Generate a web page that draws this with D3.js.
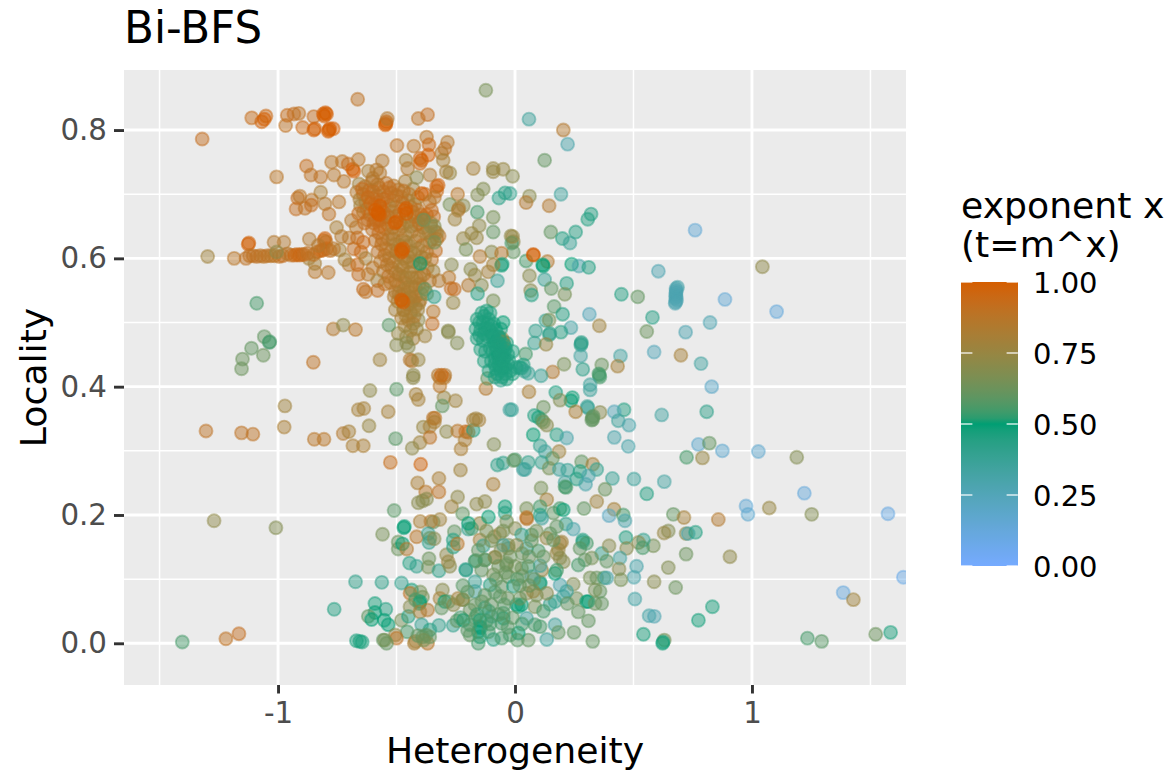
<!DOCTYPE html>
<html><head><meta charset="utf-8">
<script src="https://cdn.jsdelivr.net/npm/d3@7/dist/d3.min.js"></script>
<style>html,body{margin:0;padding:0;background:#fff}svg{display:block}text{font-family:"DejaVu Sans",sans-serif}</style>
</head><body><svg id="c" width="1173" height="772"></svg>
<script>
const xTicks=[-1,0,1], xMinor=[-1.5,-0.5,0.5,1.5];
const yTicks=[0,0.2,0.4,0.6,0.8], yMinor=[0.1,0.3,0.5,0.7];
const legendTicks=[0,0.25,0.5,0.75,1];
const chartTitle="Bi-BFS", xTitle="Heterogeneity", yTitle="Locality", legendTitle=["exponent x","(t=m^x)"];
// each point: [heterogeneity, locality, exponent]
const bottomCluster=[
[.11,.242,.65],[.134,.224,.8],[.345,.221,.78],[.291,.21,.6],[.418,.209,.8],[.397,.199,.22],[.457,.2,.55],[.464,.191,.3],
[-.162,.217,.72],[-.127,.221,.72],[-.148,.187,.75],[-.112,.197,.5],[-.042,.213,.5],[-.042,.203,.45],[.049,.21,.65],[.049,.196,.9],[.05,.194,.88],[.106,.213,.55],[.106,.2,.45],[.162,.203,.6],[.19,.21,.55],[.204,.208,.5],[.113,.195,.35],[.215,.186,.42],[.246,.178,.3],[-.183,.179,.55],[-.197,.187,.5],[-.148,.161,.8],[-.134,.152,.4],[-.087,.166,.72],[-.063,.171,.75],[0,.179,.7],[-.035,.19,.65],[.07,.169,.55],[.028,.169,.4],[.148,.171,.6],[.134,.164,.75],[.176,.182,.6],[.19,.156,.8],[.197,.158,.78],[.183,.146,.75],[.176,.14,.75],[.19,.133,.7],[.204,.127,.7],[.162,.161,.6],[.286,.161,.45],[.286,.158,.45],[.274,.148,.6],[.302,.156,.55],[.366,.14,.4],[.324,.133,.65],[.295,.13,.6],[.267,.122,.55],[.387,.128,.6],[.317,.102,.65],[.345,.102,.62],[.376,.102,.55],[.387,.102,.3],[.246,.092,.68],[.26,.07,.65],[.302,.065,.5],[.309,.065,.5],[.359,.081,.6],[.338,.083,.65],[.366,.062,.6],[.338,.062,.62],[.267,.049,.6],[.31,.035,.6],[.249,.017,.6],[.328,.003,.6],
[.106,.095,.45],[.106,.093,.47],[.19,.091,.3],[.218,.081,.35],[.204,.073,.35],[.169,.065,.4],[.148,.061,.4],[.221,.062,.6],[.169,.109,.5],[.176,.114,.55],[.113,.114,.75],[.106,.121,.35],[.07,.104,.3],[.056,.12,.55],[.028,.117,.6],[-.035,.125,.65],[-.028,.148,.7],[-.028,.153,.65],[-.049,.153,.35],[.049,.148,.4],[.099,.144,.55],[.007,.153,.72],[-.084,.134,.72],[-.127,.13,.6],[-.169,.128,.55],[-.208,.115,.42],[-.141,.114,.6],[-.091,.107,.65],[-.169,.096,.38],[-.169,.081,.35],[-.105,.091,.45],[-.056,.088,.6],[-.028,.104,.6],[-.007,.089,.45],[.007,.06,.48],[.014,.057,.48],[.028,.06,.5],[.091,.075,.65],[.049,.078,.7],[.077,.081,.75],[.134,.078,.7],[-.063,.073,.6],[-.127,.075,.6],[-.169,.06,.6],[-.221,.068,.75],[-.19,.052,.62],[-.127,.055,.45],[-.098,.042,.38],[-.049,.039,.5],[.049,.039,.35],[.084,.057,.65],[.169,.029,.35],[.183,.017,.6],[.134,.006,.35],[.056,.005,.6],[.084,.029,.55],[.106,.026,.55],[-.148,.026,.48],[-.145,.024,.48],[-.155,.018,.48],[-.148,.01,.5],[-.19,.013,.6],[-.155,0,.55],[-.091,.006,.45],[-.056,.008,.55],[-.021,.013,.55],[.014,.016,.5],[-.218,.036,.5],[-.169,.039,.6],[-.112,.018,.55],[-.056,.031,.55],[-.049,.047,.55],[-.148,.036,.5],[-.19,.029,.55],
[-.1,.06,.6],[-.085,.08,.58],[-.03,.07,.62],[.02,.09,.6],[0,.12,.65],[.03,.14,.62],[-.06,.145,.68],[-.1,.16,.65],[.06,.135,.62],[.08,.1,.6],[-.08,.1,.6],[-.045,.06,.58],[-.01,.04,.6],[-.11,.05,.55],[-.07,.045,.58],[-.03,.025,.58],[.03,.03,.55],[.02,.07,.62],[.06,.09,.62],[-.14,.065,.6],[-.12,.035,.55],[-.16,.045,.55],[-.04,.11,.62],[.03,.105,.62],[.12,.135,.62],[.07,.16,.62],[-.12,.175,.65],[-.05,.175,.65],[.09,.175,.65],[-.07,.12,.62],[-.02,.135,.62],[.01,.1,.58],[-.23,.04,.55],[-.2,.02,.58],[-.105,.03,.55],[.01,.005,.58],[-.2,.08,.6],[-.22,.09,.58],[-.155,.145,.6],[.12,.05,.55]
];
const bottomLeft=[
[-.445,.125,.45],[-.415,.12,.4],[-.363,.132,.62],[-.366,.119,.65],[-.321,.113,.42],[-.282,.127,.78],[-.275,.12,.7],[-.207,.114,.42],[-.289,.138,.72],[-.165,.129,.55],[-.127,.13,.55],[-.085,.134,.7],[-.036,.122,.6],
[-.673,.096,.42],[-.562,.095,.42],[-.479,.094,.4],[-.763,.053,.45],[-.436,.083,.47],[-.443,.078,.9],[-.4,.08,.65],[-.39,.072,.65],[-.401,.065,.5],[-.403,.062,.5],[-.42,.068,.55],[-.306,.083,.7],[-.317,.07,.8],[-.296,.065,.5],[-.28,.065,.6],[-.31,.055,.6],[-.24,.07,.8],[-.22,.068,.6],[-.26,.06,.7],
[-.591,.062,.48],[-.545,.053,.45],[-.591,.048,.5],[-.619,.042,.6],[-.605,.037,.5],[-.552,.036,.5],[-.535,.029,.5],[-.479,.036,.65],[-.45,.042,.45],[-.443,.057,.7],[-.401,.049,.8],[-.369,.052,.85],[-.394,.029,.38],[-.359,.021,.45],[-.321,.028,.4],[-.261,.028,.4],[-.245,.035,.6],
[-.455,.018,.55],[-.505,.013,.72],[-.5,.008,.9],[-.556,.005,.6],[-.542,0,.6],[-.55,.005,.65],[-.669,.004,.47],[-.645,.002,.47],[-.655,.003,.47],[-.425,0,.82],[-.42,.003,.8],[-.369,0,.88],[-.41,.012,.6],[-.39,.01,.6],[-.375,.013,.6],[-.36,.01,.6],[-.385,.005,.65],
[-1.404,.002,.55],[-1.22,.007,.9],[-1.165,.015,.92],
[-.612,.394,.72],[-.5,.396,.58],[-.418,.388,.8],[-.408,.38,.8],[-.3,.383,.75],[-.251,.378,.78],[-.307,.37,.6],[-.317,.401,.88],[-.123,.397,.85],[-.317,.414,.88],[-.299,.414,.88],[-.43,.414,.72],[-.116,.413,.6],[-.022,.364,.35],
[-.971,.37,.78],[-.661,.364,.8],[-.638,.366,.8],[-.535,.361,.8],[-.974,.337,.82],[-1.304,.331,.9],[-1.154,.328,.9],[-1.106,.326,.9],[-.847,.318,.88],[-.806,.318,.88],[-.725,.327,.85],[-.701,.33,.8],[-.616,.339,.75],[-.684,.308,.82],[-.64,.308,.82],[-.504,.319,.58],
[-.387,.337,.75],[-.359,.338,.8],[-.345,.351,.88],[-.338,.351,.88],[-.34,.345,.82],[-.289,.33,.72],[-.242,.331,.88],[-.208,.33,.93],[-.197,.329,.93],[-.176,.332,.45],[-.176,.348,.8],[-.152,.348,.8],[-.165,.35,.78],[-.359,.321,.9],[-.401,.313,.78],[-.434,.304,.72],[-.211,.317,.82],[-.228,.303,.82],[-.089,.31,.68],
[-.526,.282,.93],[-.398,.279,.98],[-.23,.27,.78],[-.074,.278,.42],[-.05,.281,.42],[0,.286,.55],[.035,.271,.35],[-.411,.25,.82],[-.321,.257,.82],[-.377,.236,.88],[-.321,.236,.9],[-.092,.248,.82],[-.242,.228,.72],[-.408,.219,.7],[-.39,.222,.7],[-.373,.225,.7],[-.268,.213,.78],[-.221,.202,.6],[-.51,.207,.58],
[-1.27,.191,.72],[-1.009,.18,.68],[-.469,.18,.5],[-.467,.182,.5],[-.559,.17,.65],[-.4,.19,.82],[-.345,.189,.62],[-.355,.19,.85],[-.317,.193,.78],[-.415,.166,.88],[-.366,.171,.38],[-.359,.164,.6],[-.363,.157,.4],[-.341,.163,.7],[-.493,.158,.62],[-.493,.147,.62],[-.475,.155,.5],[-.457,.147,.85],[-.256,.174,.6],[-.261,.161,.45],[-.26,.15,.45],[-.243,.155,.88],[-.197,.178,.4],
];
const mainCluster=[
[-.658,.716,.78],[-.632,.712,.85],[-.602,.72,.9],[-.574,.71,.86],[-.543,.717,.9],[-.512,.713,.86],[-.463,.72,.82],[-.43,.708,.78],
[-.668,.703,.86],[-.641,.7,.9],[-.615,.706,.86],[-.583,.698,.8],[-.556,.704,.9],[-.523,.702,.9],[-.492,.707,.86],[-.447,.7,.86],[-.41,.695,.86],
[-.655,.692,.82],[-.63,.688,.9],[-.6,.694,.9],[-.572,.688,.92],[-.54,.695,.9],[-.513,.69,.92],[-.48,.696,.86],[-.452,.69,.82],[-.422,.684,.8],
[-.652,.682,.78],[-.625,.677,.86],[-.592,.684,.92],[-.563,.678,.9],[-.53,.682,.86],[-.503,.68,.82],[-.474,.686,.9],[-.44,.68,.86],[-.41,.675,.9],
[-.64,.672,.82],[-.612,.668,.92],[-.55,.665,.92],[-.52,.673,.86],[-.49,.668,.92],[-.43,.672,.9],[-.395,.668,.9],
[-.622,.66,.9],[-.596,.655,.92],[-.565,.66,.9],[-.535,.652,.82],[-.475,.65,.9],[-.45,.657,.8],[-.418,.652,.86],[-.388,.648,.8],
[-.602,.645,.9],[-.575,.64,.92],[-.548,.646,.9],[-.52,.638,.86],[-.49,.644,.8],[-.462,.636,.86],[-.435,.642,.8],[-.405,.635,.9],[-.376,.64,.82],[-.35,.63,.82],[-.338,.642,.78],
[-.59,.628,.9],[-.563,.622,.9],[-.535,.63,.86],[-.505,.622,.82],[-.476,.628,.86],[-.448,.62,.8],[-.42,.627,.82],[-.39,.62,.9],[-.36,.625,.82],[-.335,.612,.92],
[-.579,.61,.9],[-.55,.605,.92],[-.522,.612,.86],[-.49,.606,.86],[-.452,.603,.86],[-.425,.608,.82],[-.395,.602,.82],[-.372,.61,.86],[-.352,.598,.9],
[-.568,.595,.86],[-.54,.59,.9],[-.512,.595,.86],[-.485,.588,.82],[-.455,.594,.86],[-.428,.587,.82],[-.37,.585,.82],[-.345,.58,.78],
[-.556,.58,.86],[-.535,.572,.9],[-.503,.578,.86],[-.474,.572,.86],[-.445,.578,.82],[-.415,.57,.86],[-.385,.575,.9],[-.36,.565,.86],
[-.525,.562,.9],[-.492,.558,.86],[-.465,.562,.9],[-.435,.556,.86],[-.405,.56,.86],
[-.505,.548,.86],[-.478,.542,.9],[-.45,.548,.86],[-.42,.54,.86],[-.395,.545,.86],
[-.495,.533,.82],[-.452,.528,.86],[-.43,.534,.86],[-.405,.53,.82],[-.505,.52,.8],[-.47,.52,.82],[-.44,.515,.8],
[-.45,.504,.78],[-.479,.507,.82],[-.408,.504,.72],[-.43,.498,.85],[-.465,.495,.82],[-.44,.488,.78],[-.415,.49,.75],[-.493,.483,.75],[-.458,.478,.75],[-.43,.475,.8],[-.458,.468,.7],[-.5,.465,.7],[-.45,.462,.7],[-.443,.442,.85],[-.435,.44,.85],[-.408,.442,.75],[-.324,.418,.85],[-.296,.418,.85],[-.31,.418,.95],[-.429,.418,.72],
[-.69,.659,.85],[-.67,.648,.88],[-.7,.632,.88],[-.665,.632,.92],[-.64,.625,.95],[-.68,.615,.92],[-.65,.61,.95],[-.7,.59,.85],[-.665,.59,.95],[-.63,.6,.8],[-.66,.575,.92],[-.62,.575,.88],[-.64,.552,.92],[-.63,.548,.9],[-.58,.565,.8],[-.55,.56,.88],[-.6,.585,.88],[-.58,.55,.92],
[-.38,.7,.92],[-.394,.701,1],[-.331,.712,.98],[-.324,.714,.98],[-.33,.705,.95],[-.34,.695,.88],[-.36,.688,.88],[-.352,.675,.92],[-.373,.668,.95],[-.385,.663,.92],[-.343,.665,.92],[-.355,.655,.8],[-.395,.66,.92],
[-.34,.65,.68],[-.33,.63,.88],[-.365,.64,.8],[-.32,.635,.88],[-.33,.64,.78],
];
const mainFill=[
[-.645,.708,.92],[-.62,.695,.94],[-.6,.705,.92],[-.58,.715,.9],[-.555,.692,.92],[-.53,.71,.92],[-.5,.698,.9],[-.47,.705,.9],[-.66,.67,.94],[-.635,.655,.92],[-.61,.685,.94],[-.59,.66,.92],[-.57,.65,.94],[-.555,.672,.92],[-.535,.665,.9],[-.515,.648,.88],[-.5,.665,.86],[-.485,.655,.86],[-.46,.665,.82],[-.44,.65,.8],[-.425,.665,.86],[-.405,.655,.9],
[-.575,.66,.92],[-.56,.63,.9],[-.545,.615,.88],[-.53,.6,.86],[-.515,.63,.84],[-.5,.61,.84],[-.485,.62,.82],[-.47,.6,.82],[-.46,.625,.8],[-.44,.61,.8],[-.43,.595,.8],[-.41,.615,.8],[-.4,.59,.8],[-.38,.6,.82],[-.52,.585,.86],[-.505,.565,.86],[-.49,.575,.84],[-.475,.585,.82],[-.46,.57,.82],[-.45,.555,.82],[-.435,.57,.8],[-.42,.555,.82],[-.4,.57,.82],[-.39,.555,.84],[-.51,.54,.84],[-.49,.545,.84],[-.47,.55,.82],[-.455,.535,.82],[-.44,.54,.82],[-.42,.525,.82],[-.4,.535,.84],[-.38,.552,.6],[-.372,.545,.65],[-.47,.52,.8],[-.44,.53,.82],[-.46,.51,.82],[-.425,.51,.82],[-.41,.52,.78],[-.48,.535,.86],
[-.58,.672,1],[-.577,.67,1],[-.572,.668,1],[-.465,.675,1],[-.46,.678,1],[-.458,.67,1],[-.507,.655,1],[-.5,.657,1],[-.481,.613,1],[-.477,.61,1],[-.472,.615,1],[-.479,.535,1],[-.472,.532,1],[-.57,.682,1],[-.59,.675,1],
[-.4,.592,.5],[-.385,.66,.62],[-.34,.625,.65],[-.355,.65,.72]
];
const topBand=[
[-1.32,.786,.92],[-1.111,.819,.93],[-1.069,.813,.98],[-1.051,.822,.95],[-1.058,.817,1],[-.968,.807,.9],[-.961,.823,.93],[-.933,.825,.92],[-.912,.826,.9],[-.896,.804,.95],[-.849,.821,.92],[-.849,.8,1],[-.845,.802,.98],[-.809,.825,1],[-.795,.825,1],[-.8,.827,1],[-.805,.822,1],[-.785,.8,1],[-.782,.802,1],[-.788,.798,1],[-.767,.802,1],[-.664,.848,.9],[-.545,.81,1],[-.543,.813,1],[-.547,.808,1],[-.539,.818,.85],[-.408,.818,.9],[-.369,.824,.92],
[-.498,.776,.9],[-.427,.775,.88],[-.373,.789,.88],[-.363,.777,.95],[-.285,.781,.85],[-.296,.771,.9],[-.31,.764,.85],[-.366,.761,1],[-.401,.756,.95],[-.394,.753,1],[-.46,.753,.8],[-.453,.74,.85],[-.401,.748,.95],[-.303,.753,.8],[-.359,.73,.85],[-.415,.726,.72],[-.275,.733,.75],[-.29,.735,.8],
[-.88,.744,.93],[-.861,.73,.9],[-.82,.727,.9],[-.774,.75,.88],[-.764,.73,.88],[-.729,.751,.88],[-.704,.747,.92],[-.685,.739,1],[-.68,.736,1],[-.661,.754,.88],[-.722,.72,.88],[-1.006,.727,.88],[-.619,.736,.82],[-.584,.738,.88],[-.56,.752,.85],[-.57,.733,.85],[-.6,.725,.85],
[-.82,.703,.82],[-.917,.694,.92],[-.908,.697,.88],[-.924,.677,.92],[-.886,.678,.9],[-.858,.691,.88],[-.86,.683,.92],[-.802,.685,.85],[-.785,.669,.9],[-.743,.688,.88],
[-1.297,.603,.78],[-1.185,.6,.88],[-1.126,.622,1],[-1.123,.624,.98],[-1.017,.625,.85],[-.975,.625,.85],[-.868,.63,.85],[-.802,.631,.98],[-.806,.628,.95],[-.798,.626,.9],[-.753,.648,.82],[-.732,.634,.85],[-.844,.579,.88],[-.788,.578,.88],[-.845,.592,.8],[-.87,.6,.8],[-.718,.598,.8],[-.74,.613,.8],
[-1.135,.6,.9],[-1.12,.604,.9],[-1.105,.604,.9],[-1.09,.603,.9],[-1.075,.604,.9],[-1.06,.603,.88],[-1.045,.604,.9],[-1.03,.604,.88],[-1.015,.604,.88],[-.995,.603,.9],[-.98,.604,.92],[-.96,.607,.85],[-.945,.605,.9],[-.93,.605,.95],[-.92,.606,.95],[-.91,.605,.95],[-.9,.606,.95],[-.89,.606,.92],[-.875,.608,.9],[-.85,.606,.9],[-.835,.61,.9],[-.82,.612,.95],[-.81,.613,.95],[-.795,.615,.95],[-.78,.612,.9],[-.765,.615,.88],[-1.006,.61,.72],[-.83,.62,.85],
[-.851,.438,.9],[-.767,.49,.85],[-.725,.496,.72],[-.673,.489,.88],[-.57,.442,.78],[-.532,.496,.58],[-1.09,.53,.55],[-1.058,.478,.6],[-1.112,.46,.6],[-1.037,.469,.55],[-1.035,.47,.55],[-1.062,.449,.62],[-1.15,.443,.62],[-1.154,.428,.62],
];
const midCloud=[
[-.123,.862,.65],[-.176,.74,.8],[-.092,.74,.75],[-.092,.735,.75],[-.05,.739,.75],[-.01,.728,.7],[-.242,.7,.88],[-.134,.708,.68],[-.158,.699,.68],[-.042,.702,.45],[-.068,.694,.43],[-.275,.684,.65],[-.218,.682,.7],[-.24,.675,.85],[-.237,.678,.82],[-.254,.661,.78],[-.159,.672,.55],[-.092,.664,.65],[-.151,.651,.72],[-.092,.641,.6],[-.183,.639,.75],[-.218,.631,.75],[-.162,.632,.75],[-.207,.614,.65],[-.017,.635,.72],[-.007,.626,.72],[-.014,.624,.55],[-.007,.61,.6],[-.099,.61,.7],[-.057,.608,.88],[-.148,.603,.85],[-.057,.589,.47],[-.054,.591,.47],[-.092,.59,.8],[-.113,.579,.8],[-.187,.583,.7],[-.169,.574,.75],[-.141,.558,.7],[-.197,.558,.85],[-.268,.59,.7],[-.279,.57,.88],[-.321,.565,.85],[-.27,.553,.92],[-.256,.552,.92],[-.074,.565,.38],[-.158,.545,.45],[-.341,.54,.42],[-.261,.531,.75],[-.092,.534,.65],[-.282,.487,.7],[-.281,.485,.7],[-.244,.468,.68],[-.345,.517,.88],[-.349,.498,.92],[-.38,.479,.78],
];
const tealCluster=[
[-.14,.515,.46],[-.12,.518,.46],[-.105,.515,.46],[-.16,.505,.46],[-.135,.5,.46],[-.11,.505,.46],[-.09,.498,.46],[-.165,.49,.46],[-.145,.488,.46],[-.125,.49,.46],[-.1,.485,.46],[-.08,.488,.46],[-.16,.475,.46],[-.135,.472,.46],[-.115,.478,.46],[-.09,.47,.46],[-.07,.478,.46],[-.055,.475,.75],[-.05,.46,.46],[-.145,.458,.46],[-.125,.455,.46],[-.105,.46,.46],[-.08,.455,.46],[-.06,.462,.46],[-.035,.468,.46],[-.03,.45,.46],[-.13,.44,.46],[-.1,.44,.46],[-.085,.445,.46],[-.065,.44,.46],[-.045,.445,.46],[-.025,.44,.46],[-.01,.455,.46],[-.08,.428,.46],[-.06,.425,.46],[-.04,.43,.46],[-.02,.425,.46],[-.11,.425,.46],[-.085,.415,.46],[-.06,.41,.42],[-.035,.412,.46],[-.01,.42,.46],[.02,.43,.46],[-.07,.478,.46],[-.06,.49,.46],[-.05,.5,.5],[-.08,.47,.5],[-.07,.45,.5],[-.05,.47,.8],
[-.15,.5,.46],[-.13,.51,.46],[-.115,.498,.46],[-.1,.495,.46],[-.15,.48,.46],[-.13,.482,.46],[-.11,.49,.46],[-.095,.478,.46],[-.085,.465,.46],[-.075,.47,.46],[-.065,.465,.46],[-.055,.45,.46],[-.045,.455,.46],[-.075,.46,.46],[-.065,.455,.46],[-.055,.44,.46],[-.04,.46,.46],[-.03,.435,.46],[-.07,.435,.46],[-.05,.43,.46],[-.04,.42,.46],[-.075,.42,.46],[-.055,.415,.46],[-.095,.455,.46],[-.085,.435,.46],[-.065,.475,.46],[-.07,.445,.46],[-.06,.45,.46],[-.05,.44,.46],[-.06,.43,.46],[-.045,.465,.46],[-.09,.48,.46]
];
const rightCloud=[
[.059,.817,.35],[.204,.8,.85],[.222,.778,.3],[.125,.753,.6],[-.021,.701,.4],[.194,.7,.35],[.061,.697,.7],[.047,.687,.85],[.144,.682,.85],[.321,.669,.45],[.307,.661,.45],[.151,.641,.6],[.256,.641,.45],[.2,.631,.45],[.232,.624,.38],[-.01,.634,.75],[.047,.596,.55],[.077,.606,1],[.078,.605,1],[.137,.595,.85],[.117,.59,.5],[.119,.588,.5],[.239,.591,.5],[.27,.588,.3],[.311,.586,.45],[.76,.644,.15],[1.044,.587,.72],[.605,.58,.28],[.061,.573,.7],[.125,.567,.38],[.218,.561,.45],[.153,.553,.6],[.066,.55,.7],[.07,.543,.45],[.21,.544,.65],[.449,.544,.45],[.518,.54,.6],
[.68,.553,.28],[.686,.555,.3],[.68,.55,.28],[.68,.547,.28],[.678,.544,.28],[.68,.541,.28],[.678,.538,.28],[.682,.535,.28],[.678,.532,.28],[.676,.53,.28],
[.886,.536,.15],[1.104,.517,.13],[.823,.5,.28],[.58,.508,.43],[.165,.525,.58],[.201,.513,.45],[.314,.513,.25],[.356,.495,.78],[.13,.503,.4],[.144,.504,.65],[.087,.487,.4],[.236,.492,.32],[.194,.485,.45],[.145,.481,.42],[.147,.483,.42],[.556,.486,.62],[.72,.485,.28],[.082,.468,.4],[.131,.466,.75],[.279,.467,.42],[.28,.469,.42],[.278,.465,.42],[.045,.451,.55],[.277,.448,.33],[.445,.448,.33],[.587,.454,.25],[.7,.449,.8],[.785,.436,.33],[.207,.435,.65],[.366,.434,.62],[.433,.432,.8],[.286,.427,.42],[.159,.423,.85],[.11,.417,.38],[.356,.418,.55],[.358,.415,.55],[.354,.42,.55],[.056,.421,.38],[.035,.434,.45],[.028,.429,.45],[.04,.424,.4],[.005,.43,.45],
[.83,.4,.2],[.317,.403,.35],[.317,.395,.35],[.059,.392,.82],[.172,.391,.45],[.242,.383,.48],[.236,.378,.5],[.19,.379,.68],[.305,.369,.38],[.307,.367,.38],[.359,.36,.7],[.46,.364,.45],[.419,.361,.25],[.256,.361,.82],[.326,.352,.6],[.328,.349,.6],[.324,.348,.6],[.33,.354,.6],[-.014,.364,.38],[.436,.347,.35],[.481,.34,.3],[.619,.356,.33],[.809,.361,.42],[.12,.368,.62],[.082,.355,.45],[.099,.352,.48],[.113,.348,.55],[.134,.34,.7],[.12,.345,.65],
[.077,.325,.5],[.176,.325,.45],[.218,.32,.3],[.419,.321,.3],[.478,.307,.3],[.106,.308,.4],[.127,.299,.35],[.186,.299,.78],[.158,.288,.6],[.113,.282,.4],[.056,.282,.42],[.042,.271,.35],[-.006,.285,.6],[.144,.273,.65],[.187,.271,.35],[.222,.27,.38],[.281,.283,.6],[.328,.279,.8],[.345,.271,.4],[.274,.268,.45],[.26,.256,.45],[.31,.261,.3],[.211,.251,.35],[.211,.244,.55],[.215,.243,.55],[.298,.248,.3],[.411,.257,.38],[.38,.24,.62],[.502,.256,.35],[.63,.252,.33],[.556,.233,.45],
[.774,.31,.18],[.82,.312,.6],[.875,.3,.17],[1.027,.299,.17],[1.189,.29,.68],[.724,.29,.55],[.791,.289,.75],[1.221,.234,.13],[.975,.214,.15],[.983,.201,.17],[1.073,.211,.75],[1.252,.201,.68],[1.574,.202,.1],[.858,.193,.85],[.668,.201,.6],[.713,.196,.8],
[.647,.175,.68],[.629,.172,.75],[.722,.171,.7],[.731,.171,.3],[.762,.173,.45],[.584,.152,.65],[.542,.161,.4],[.521,.157,.7],[.539,.149,.55],[.468,.165,.45],[.471,.148,.7],[.397,.152,.7],[.443,.133,.33],[.722,.139,.62],[.907,.135,.72],[.513,.12,.3],[.439,.116,.7],[.647,.118,.68],[.502,.103,.3],[.447,.099,.65],[.587,.096,.7],[.678,.087,.62],[1.639,.103,.08],[1.385,.079,.12],[1.428,.068,.78],[.833,.057,.47],[.506,.069,.32],[.566,.043,.32],[.588,.042,.28],[.774,.036,.48],[.542,.014,.47],[.63,.005,.65],[.623,0,.48],[.625,.002,.48],[1.234,.008,.55],[1.294,.003,.58],[1.522,.014,.62],[1.585,.017,.47],
];
const pointGroups=[bottomLeft,bottomCluster,mainCluster,mainFill,topBand,midCloud,tealCluster,rightCloud];

const panel={l:124,r:906,t:70,b:685};
const x=d3.scaleLinear().domain([-1.65,1.65]).range([panel.l,panel.r]);
const y=d3.scaleLinear().domain([-0.065,0.8936]).range([panel.b,panel.t]);
const colour=d3.scaleLinear().domain([0,0.5,1]).range(["#75AAFF","#009E73","#D55E00"]).interpolate(d3.interpolateLab);
const svg=d3.select("#c");
const defs=svg.append("defs");
defs.append("clipPath").attr("id","p").append("rect").attr("x",panel.l).attr("y",panel.t).attr("width",panel.r-panel.l).attr("height",panel.b-panel.t);
svg.append("rect").attr("x",panel.l).attr("y",panel.t).attr("width",panel.r-panel.l).attr("height",panel.b-panel.t).attr("fill","#EBEBEB");
const grid=svg.append("g").attr("stroke","#fff");
grid.selectAll(".a").data(xMinor).join("line").attr("x1",x).attr("x2",x).attr("y1",panel.t).attr("y2",panel.b).attr("stroke-width",1.5);
grid.selectAll(".b").data(yMinor).join("line").attr("y1",y).attr("y2",y).attr("x1",panel.l).attr("x2",panel.r).attr("stroke-width",1.5);
grid.selectAll(".c").data(xTicks).join("line").attr("x1",x).attr("x2",x).attr("y1",panel.t).attr("y2",panel.b).attr("stroke-width",2.9);
grid.selectAll(".d").data(yTicks).join("line").attr("y1",y).attr("y2",y).attr("x1",panel.l).attr("x2",panel.r).attr("stroke-width",2.9);

const pts=svg.append("g").attr("clip-path","url(#p)");
pointGroups.forEach(g=>{
  pts.append("g").selectAll("circle").data(g).join("circle")
   .attr("cx",d=>x(d[0])).attr("cy",d=>y(d[1])).attr("r",6.5)
   .attr("fill",d=>colour(d[2])).attr("stroke",d=>colour(d[2]))
   .attr("fill-opacity",.47).attr("stroke-opacity",.47).attr("stroke-width",1.9);
});

const ax=svg.append("g").attr("transform",`translate(0,${panel.b})`).call(d3.axisBottom(x).tickValues(xTicks).tickSize(8.5).tickPadding(8.5).tickFormat(d=>String(d)));
ax.select(".domain").remove();
const ay=svg.append("g").attr("transform",`translate(${panel.l},0)`).call(d3.axisLeft(y).tickValues(yTicks).tickSize(10).tickPadding(7).tickFormat(d3.format(".1f")));
ay.select(".domain").remove();
[ax,ay].forEach(a=>{a.selectAll("line").attr("stroke","#333").attr("stroke-width",2.9);a.selectAll("text").attr("fill","#4D4D4D").style("font-size","29.3px").style("font-family",'"DejaVu Sans"');});

svg.append("text").attr("x",124).attr("y",43).attr("font-size",43.6).attr("fill","#000").text(chartTitle);
svg.append("text").attr("x",(panel.l+panel.r)/2).attr("y",763).attr("text-anchor","middle").attr("font-size",36.2).text(xTitle);
svg.append("text").attr("transform",`translate(46,${(panel.t+panel.b)/2}) rotate(-90)`).attr("text-anchor","middle").attr("font-size",36.2).text(yTitle);

legendTitle.forEach((t,i)=>svg.append("text").attr("x",961).attr("y",218+i*39).attr("font-size",36.2).text(t));
const leg=d3.scaleLinear().domain([0,1]).range([566,282]);
const lg=defs.append("linearGradient").attr("id","lg").attr("x1",0).attr("x2",0).attr("y1",1).attr("y2",0);
d3.range(0,1.0001,0.02).forEach(t=>lg.append("stop").attr("offset",t).attr("stop-color",colour(t)));
svg.append("rect").attr("x",961).attr("width",57).attr("y",leg(1)).attr("height",leg(0)-leg(1)).attr("fill","url(#lg)");
const lt=svg.append("g");
lt.selectAll(".l").data(legendTicks).join("line").attr("x1",961).attr("x2",972.4).attr("y1",leg).attr("y2",leg).attr("stroke","#fff").attr("stroke-width",1.2);
lt.selectAll(".r").data(legendTicks).join("line").attr("x1",1006.6).attr("x2",1018).attr("y1",leg).attr("y2",leg).attr("stroke","#fff").attr("stroke-width",1.2);
lt.selectAll("text").data(legendTicks).join("text").attr("x",1033).attr("y",d=>leg(d)+10.5).attr("font-size",29).attr("fill","#000").text(d3.format(".2f"));
</script></body></html>
